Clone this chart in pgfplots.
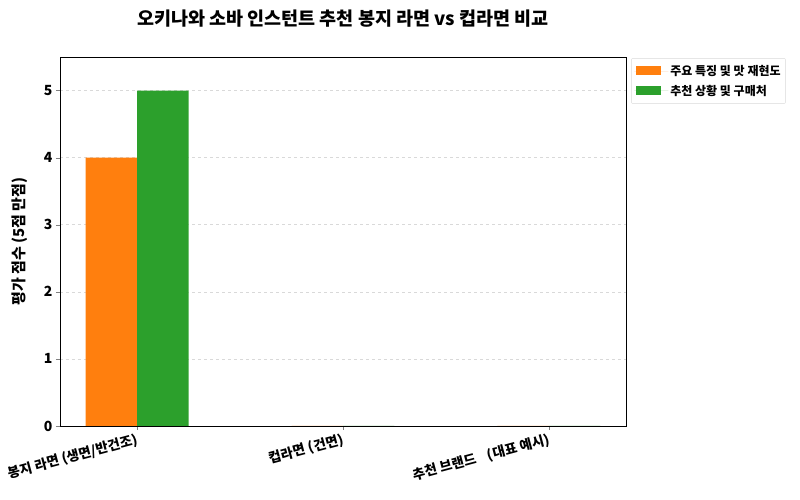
\documentclass[border=0pt]{standalone}
\usepackage{fontspec}
\setmainfont{Noto Sans CJK KR}
\usepackage{pgfplots}
\pgfplotsset{compat=1.18}
\definecolor{mplorange}{HTML}{FF7F0E}
\definecolor{mplgreen}{HTML}{2CA02C}
\definecolor{gridgray}{HTML}{D9D9D9}

\begin{document}
\begin{tikzpicture}[x=1pt,y=1pt]
\begin{axis}[
  at={(0,0)}, anchor=south west,
  scale only axis,
  width=566pt, height=369pt,
  xmin=-0.375, xmax=2.375,
  ymin=0, ymax=5.5,
  xtick={0,1,2},
  xticklabels={봉지 라면 (생면/반건조), 컵라면 (건면), 추천 브랜드\hspace{0.9em}(대표 예시)},
  xticklabel style={rotate=15, anchor=north east, font=\fontsize{13.5}{15}\selectfont\bfseries, inner sep=2pt},
  ytick={0,1,2,3,4,5},
  yticklabel style={font=\fontsize{14}{16}\selectfont\bfseries},
  /pgf/number format/assume math mode=true,
  tick pos=left,
  tick align=outside,
  major tick length=4pt,
  ymajorgrids,
  grid style={gridgray, dashed, line width=0.6pt},
  axis line style={line width=0.8pt},
  ylabel={평가 점수 (5점 만점)},
  ylabel style={font=\fontsize{15}{17}\selectfont\bfseries, at={(-40pt,0.5)}, anchor=center, rotate=0},
  title={오키나와 소바 인스턴트 추천 봉지 라면 vs 컵라면 비교},
  title style={font=\fontsize{18.5}{20}\selectfont\bfseries, at={(0.5,1)}, anchor=south, yshift=20pt},
  ybar, bar width=0.25,
  legend style={
    at={(1.009,0.997)}, anchor=north west,
    font=\fontsize{12}{14}\selectfont\bfseries,
    draw=gridgray, rounded corners=2pt,
    row sep=4pt, inner xsep=3pt, inner ysep=5pt,
    legend cell align=left,
  },
  legend image code/.code={
    \fill[#1, sharp corners] (2pt,-4pt) rectangle (27pt,5pt);
    \path (0pt,0pt) -- (34pt,0pt);
  },
]
\addplot[fill=mplorange, draw=none, bar shift=-0.125] coordinates {(0,4) (1,0) (2,0)};
\addlegendentry{주요 특징 및 맛 재현도}
\addplot[fill=mplgreen, draw=none, bar shift=0.125] coordinates {(0,5) (1,0) (2,0)};
\addlegendentry{추천 상황 및 구매처}
\end{axis}
\path[use as bounding box] (-60pt,-74pt) rectangle (740pt,426pt);
\end{tikzpicture}
\end{document}
